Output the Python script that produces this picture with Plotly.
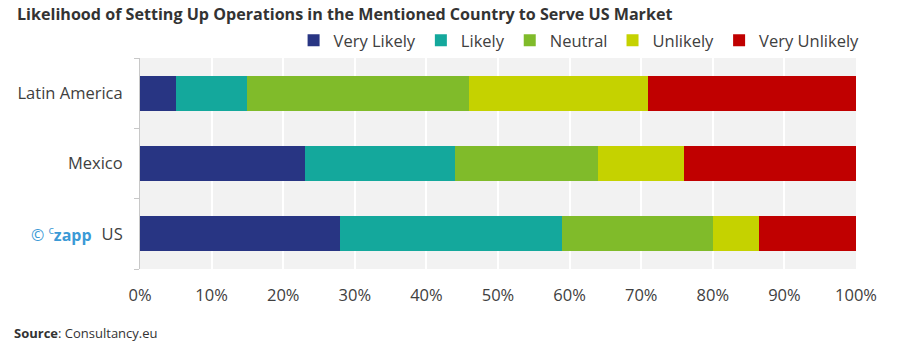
import plotly.graph_objects as go

regions = ["US", "Mexico", "Latin America"]
series_names = ["Very Likely", "Likely", "Neutral", "Unlikely", "Very Unlikely"]
very_likely = [28, 23, 5]
likely = [31, 21, 10]
neutral = [21, 20, 31]
unlikely = [6.5, 12, 25]
very_unlikely = [13.5, 24, 29]
x_ticks = [0, 10, 20, 30, 40, 50, 60, 70, 80, 90, 100]
x_tick_labels = [f"{v}%" for v in x_ticks]

values = [very_likely, likely, neutral, unlikely, very_unlikely]
colors = ["#283583", "#14a89c", "#80bb2a", "#c5d200", "#c00000"]

fig = go.Figure()
for name, vals, col in zip(series_names, values, colors):
    fig.add_trace(go.Bar(
        y=regions, x=vals, name=name, orientation="h",
        marker=dict(color=col, line=dict(width=0)),
        width=0.5,
    ))

fig.update_layout(
    barmode="stack",
    width=897, height=352,
    margin=dict(l=140, r=41, t=58, b=83),
    paper_bgcolor="white",
    plot_bgcolor="#f2f2f2",
    font=dict(family="Open Sans", size=16, color="#404040"),
    showlegend=True,
    legend=dict(
        orientation="h", x=1.012, xanchor="right", y=1, yanchor="bottom",
        font=dict(size=16.5, color="#404040"), traceorder="normal",
        itemwidth=30, bgcolor="rgba(0,0,0,0)",
    ),
    xaxis=dict(
        range=[0, 100], tickvals=x_ticks, ticktext=x_tick_labels,
        showgrid=True, gridcolor="white", gridwidth=1.5,
        zeroline=False, showline=False, ticks="",
        tickfont=dict(size=16.5, color="#404040"),
        ticklabelstandoff=14,
    ),
    yaxis=dict(
        categoryorder="array", categoryarray=regions,
        showline=True, linecolor="#c8c8c8", linewidth=1,
        ticks="outside", tickson="boundaries", ticklen=5, tickcolor="#c8c8c8",
        showgrid=False, tickfont=dict(size=16.5, color="#404040"),
        ticklabelstandoff=13,
    ),
    title=dict(
        text="<b>Likelihood of Setting Up Operations in the Mentioned Country to Serve US Market</b>",
        x=17 / 897, xref="container", xanchor="left", y=0.975, yanchor="top",
        font=dict(size=16.1, color="#333333"), pad=dict(l=0),
    ),
)

fig.add_annotation(
    text="© <sup>c</sup><b>zapp</b>", xref="paper", yref="paper",
    x=-0.064, y=0.167, xanchor="right", yanchor="middle", showarrow=False,
    font=dict(size=16, color="#3b9ad6"),
)
fig.add_annotation(
    text="<b>Source</b>: Consultancy.eu", xref="paper", yref="paper",
    x=-140 / 716 + 12 / 716, y=-0.303, xanchor="left", yanchor="middle",
    showarrow=False, font=dict(size=13, color="#333333"),
)

fig.write_html("out.html")
